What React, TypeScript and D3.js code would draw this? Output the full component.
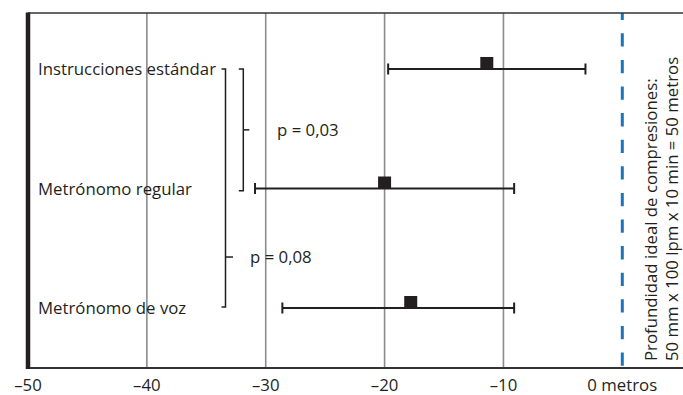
import React from "react";
import * as d3 from "d3";

const categories = ["Instrucciones estándar", "Metrónomo regular", "Metrónomo de voz"];
const means = [-11.4, -20.0, -17.8];
const lowers = [-19.7, -30.9, -28.6];
const uppers = [-3.1, -9.1, -9.1];
const xTicks = [-50, -40, -30, -20, -10, 0];
const xTickLabels = ["–50", "–40", "–30", "–20", "–10", "0 metros"];
const idealValue = 0;
const idealLabel = ["Profundidad ideal de compresiones:", "50 mm x 100 lpm x 10 min = 50 metros"];
const compFrom = [0, 0];
const compTo = [1, 2];
const compP = ["p = 0,03", "p = 0,08"];

const W = 683;
const H = 395;
const FONT = "'Open Sans', sans-serif";
const FS = 16.8;

export default function App() {
  const top = 13;
  const bottom = 368;
  const x = d3.scaleLinear().domain([-50, 0]).range([28, 622.3]);
  const y = d3.scalePoint<string>().domain(categories).range([69, 308]);
  const dark = "#231f20";
  const grid = "#8c8c8c";

  // bracket layout (pixels)
  const bracketX = [243.3, 225.5];
  const bracketLeft = [4.5, 4];
  const bracketMid = [6, 7.5];
  const bracketMidFrac = [0.5, 0.79];
  const bracketTextX = [277, 250];

  return (
    <svg
      width={W}
      height={H}
      style={{ position: "fixed", left: 0, top: 0, background: "#fff" }}
      fontFamily={FONT}
    >
      <rect x={0} y={0} width={W} height={H} fill="#fff" />
      {xTicks.slice(1, -1).map((t) => (
        <line key={t} x1={x(t)} x2={x(t)} y1={top} y2={bottom} stroke={grid} strokeWidth={1.6} />
      ))}
      <line
        x1={x(idealValue)}
        x2={x(idealValue)}
        y1={top}
        y2={bottom + 2}
        stroke="#1b75bb"
        strokeWidth={3}
        strokeDasharray="13.3 13.3"
        strokeDashoffset={6.3}
      />
      <line x1={x(-50)} x2={W} y1={top} y2={top} stroke="#333" strokeWidth={1.3} />
      <line x1={x(-50)} x2={W} y1={bottom} y2={bottom} stroke="#333" strokeWidth={2} />
      <line x1={x(-50)} x2={x(-50)} y1={top - 0.6} y2={bottom + 1} stroke={dark} strokeWidth={4.5} />

      {xTicks.map((t, i) => (
        <text key={t} x={x(t)} y={391} textAnchor="middle" fontSize={FS} fill={dark}>
          {xTickLabels[i]}
        </text>
      ))}

      {categories.map((c, i) => {
        const cy = y(c) as number;
        return (
          <g key={c}>
            <line x1={x(lowers[i])} x2={x(uppers[i])} y1={cy} y2={cy} stroke={dark} strokeWidth={1.8} />
            <line x1={x(lowers[i])} x2={x(lowers[i])} y1={cy - 5.5} y2={cy + 5.5} stroke={dark} strokeWidth={2} />
            <line x1={x(uppers[i])} x2={x(uppers[i])} y1={cy - 5.5} y2={cy + 5.5} stroke={dark} strokeWidth={2} />
            <rect x={x(means[i]) - 6.5} y={cy - 12} width={13} height={12.5} fill={dark} />
            <text x={38} y={cy + 6} fontSize={FS} fill={dark}>
              {c}
            </text>
          </g>
        );
      })}

      {compP.map((p, i) => {
        const y1 = y(categories[compFrom[i]]) as number;
        const y2 = (y(categories[compTo[i]]) as number) + (i === 0 ? 2.2 : -1);
        const bx = bracketX[i];
        const mid = y1 + (y2 - y1) * bracketMidFrac[i];
        return (
          <g key={p}>
            <path
              d={`M${bx - bracketLeft[i]},${y1}H${bx}V${y2}H${bx - bracketLeft[i]}`}
              fill="none"
              stroke={dark}
              strokeWidth={1.5}
            />
            <line x1={bx} x2={bx + bracketMid[i]} y1={mid} y2={mid} stroke={dark} strokeWidth={1.5} />
            <text x={bracketTextX[i]} y={mid + 6} fontSize={FS} fill={dark}>
              {p}
            </text>
          </g>
        );
      })}

      {idealLabel.map((l, i) => (
        <text
          key={l}
          transform={`translate(${[657, 678][i]},361) rotate(-90)`}
          fontSize={FS}
          fill={dark}
        >
          {l}
        </text>
      ))}
    </svg>
  );
}
